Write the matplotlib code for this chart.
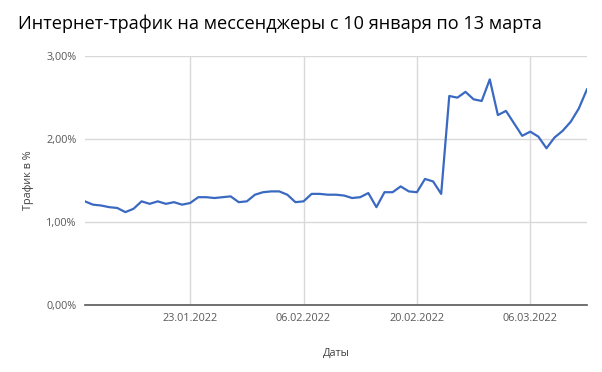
import matplotlib.pyplot as plt
import matplotlib.dates as mdates
import matplotlib.ticker as mticker
import numpy as np
import datetime as dt

# daily traffic share, 10 Jan .. 13 Mar 2022
start = dt.date(2022, 1, 10)
values = [1.25, 1.21, 1.20, 1.18, 1.17, 1.12, 1.16, 1.25, 1.22, 1.25,
          1.22, 1.24, 1.21, 1.23, 1.30, 1.30, 1.29, 1.30, 1.31, 1.24,
          1.25, 1.33, 1.36, 1.37, 1.37, 1.33, 1.24, 1.25, 1.34, 1.34,
          1.33, 1.33, 1.32, 1.29, 1.30, 1.35, 1.18, 1.36, 1.36, 1.43,
          1.37, 1.36, 1.52, 1.49, 1.34, 2.52, 2.50, 2.57, 2.48, 2.46,
          2.72, 2.29, 2.34, 2.19, 2.04, 2.09, 2.03, 1.89, 2.02, 2.10,
          2.21, 2.37, 2.60]
days = [start + dt.timedelta(days=i) for i in range(len(values))]
xticks = [dt.date(2022, 1, 23), dt.date(2022, 2, 6), dt.date(2022, 2, 20), dt.date(2022, 3, 6)]
yticks = [0, 1, 2, 3]

plt.rcParams['font.family'] = ['Open Sans', 'DejaVu Sans']

fig = plt.figure(figsize=(6.02, 3.72), dpi=100)
ax = fig.add_axes([0.141, 0.180, 0.834, 0.669])

ax.plot(days, values, color='#3a69c2', lw=1.6)

ax.set_xlim(days[0], days[-1] + dt.timedelta(days=0.3))
ax.set_ylim(0, 3)
ax.set_xticks(xticks)
ax.xaxis.set_major_formatter(mdates.DateFormatter('%d.%m.%Y'))
ax.set_yticks(yticks)
ax.yaxis.set_major_formatter(mticker.FuncFormatter(lambda v, p: ('%.2f' % v).replace('.', ',') + '%'))

ax.grid(True, color='#d9d9d9', lw=1)
ax.set_axisbelow(True)
for s in ['top', 'right', 'left']:
    ax.spines[s].set_visible(False)
ax.spines['bottom'].set_color('#595959')
ax.spines['bottom'].set_linewidth(1.2)
ax.tick_params(length=0, labelsize=7.8, labelcolor='#595959', pad=6)

ax.set_xlabel('Даты', fontsize=7.8, color='#404040', labelpad=17)
ax.set_ylabel('Трафик в %', fontsize=7.8, color='#404040', labelpad=9)

fig.text(0.03, 0.935, 'Интернет-трафик на мессенджеры с 10 января по 13 марта',
         fontsize=13.1, color='black', va='center')

fig.savefig('out.png', dpi=100)
